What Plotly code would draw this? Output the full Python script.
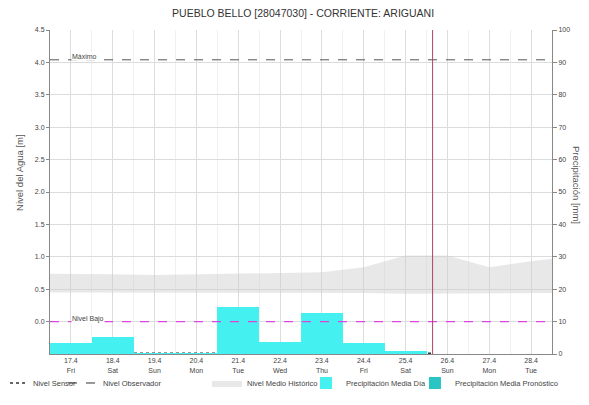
import plotly.graph_objects as go

# ---------------- data ----------------
title_text = "PUEBLO BELLO [28047030] - CORRIENTE: ARIGUANI"
left_title = "Nivel del Agua [m]"
right_title = "Precipitación [mm]"

day_dates = ["2020-04-17", "2020-04-18", "2020-04-19", "2020-04-20", "2020-04-21", "2020-04-22",
             "2020-04-23", "2020-04-24", "2020-04-25", "2020-04-26", "2020-04-27", "2020-04-28"]
day_labels = ["17.4<br>Fri", "18.4<br>Sat", "19.4<br>Sun", "20.4<br>Mon", "21.4<br>Tue", "22.4<br>Wed",
              "23.4<br>Thu", "24.4<br>Fri", "25.4<br>Sat", "26.4<br>Sun", "27.4<br>Mon", "28.4<br>Tue"]

precip_dates = ["2020-04-17", "2020-04-18", "2020-04-19", "2020-04-20", "2020-04-21",
                "2020-04-22", "2020-04-23", "2020-04-24", "2020-04-25"]
precip_values = [3.4, 5.2, 0.3, 0.3, 14.5, 3.7, 12.7, 3.4, 0.8]

forecast_dates = ["2020-04-26", "2020-04-27", "2020-04-28"]
forecast_values = [0.0, 0.0, 0.0]

hist_dates = ["2020-04-16 12:00", "2020-04-17", "2020-04-18", "2020-04-19", "2020-04-20", "2020-04-21",
              "2020-04-22", "2020-04-23", "2020-04-24", "2020-04-25", "2020-04-26", "2020-04-27",
              "2020-04-28", "2020-04-28 12:00"]
hist_upper = [0.74, 0.74, 0.73, 0.72, 0.73, 0.74, 0.75, 0.76, 0.84, 1.02, 1.02, 0.84, 0.93, 0.97]
hist_lower = [0.45, 0.45, 0.45, 0.45, 0.45, 0.45, 0.45, 0.45, 0.44, 0.43, 0.43, 0.44, 0.44, 0.44]

sensor_dates = ["2020-04-16 12:00", "2020-04-18", "2020-04-20", "2020-04-22", "2020-04-24", "2020-04-25 15:30"]
sensor_values = [-0.49, -0.49, -0.49, -0.49, -0.49, -0.49]

level_max = 4.04
level_low = 0.0
now_time = "2020-04-25 15:30"
x_start = "2020-04-16 12:00"
x_end = "2020-04-28 12:00"

left_ticks = [0.0, 0.5, 1.0, 1.5, 2.0, 2.5, 3.0, 3.5, 4.0, 4.5]
right_ticks = [0, 10, 20, 30, 40, 50, 60, 70, 80, 90, 100]

# ---------------- figure ----------------
FONT = "Liberation Sans, Arial, sans-serif"
TXT = "#444444"

fig = go.Figure()

fig.add_trace(go.Scatter(
    x=sensor_dates, y=sensor_values, mode="lines", name="Nivel Sensor",
    line=dict(color="#333333", width=1.5, dash="dot"), yaxis="y", legendwidth=25))
fig.add_trace(go.Scatter(
    x=[None], y=[None], mode="lines", name="Nivel Observador",
    line=dict(color="#333333", width=1, dash="dash"), yaxis="y", legendwidth=99))
fig.add_trace(go.Scatter(
    x=hist_dates, y=hist_lower, mode="lines", line=dict(width=0, color="rgba(0,0,0,0)"),
    showlegend=False, hoverinfo="skip", yaxis="y"))
fig.add_trace(go.Scatter(
    x=hist_dates, y=hist_upper, mode="lines", name="Nivel Medio Histórico",
    line=dict(width=0, color="rgba(205,205,205,0.55)"), fill="tonexty",
    fillcolor="rgba(205,205,205,0.45)", yaxis="y", legendwidth=54))
fig.add_trace(go.Bar(
    x=precip_dates, y=precip_values, name="Precipitación Media Día",
    marker=dict(color="#44f0f0", line=dict(width=0)), width=86400000, yaxis="y2", legendwidth=90))
fig.add_trace(go.Bar(
    x=forecast_dates, y=forecast_values, name="Precipitación Media Pronóstico",
    marker=dict(color="#2bc4c4", line=dict(width=0)), width=86400000, yaxis="y2",
    legend="legend2", legendwidth=140))

# reference lines
fig.add_shape(type="line", xref="paper", x0=0, x1=1, yref="y", y0=level_max, y1=level_max,
              line=dict(color="#555555", width=1, dash="dash"), layer="above")
fig.add_shape(type="line", xref="paper", x0=0, x1=1, yref="y", y0=level_low, y1=level_low,
              line=dict(color="#dd44dd", width=1.2, dash="dash"), layer="above")
fig.add_shape(type="line", xref="x", x0=now_time, x1=now_time, yref="paper", y0=0, y1=1,
              line=dict(color="#b04060", width=1), layer="above")

fig.add_annotation(xref="paper", x=0.042, yref="y", y=level_max, text="Máximo", showarrow=False,
                   xanchor="left", yanchor="middle", yshift=3, bgcolor="white", borderpad=0,
                   font=dict(size=7, color=TXT, family=FONT))
fig.add_annotation(xref="paper", x=0.042, yref="y", y=level_low, text="Nivel Bajo", showarrow=False,
                   xanchor="left", yanchor="middle", yshift=3, bgcolor="white", borderpad=0,
                   font=dict(size=7, color=TXT, family=FONT))

# axis titles (placed as in the reference)
fig.add_annotation(xref="paper", x=-0.0598, yref="paper", y=0.562, text=left_title, showarrow=False,
                   textangle=-90, xanchor="center", yanchor="middle",
                   font=dict(size=9.5, color="#555555", family=FONT))
fig.add_annotation(xref="paper", x=1.0478, yref="paper", y=0.522, text=right_title, showarrow=False,
                   textangle=90, xanchor="center", yanchor="middle",
                   font=dict(size=9.5, color="#555555", family=FONT))

legend_common = dict(orientation="h", y=-0.0895, yanchor="middle", traceorder="normal",
                     font=dict(size=7.5, color=TXT, family=FONT), bgcolor="rgba(0,0,0,0)",
                     itemwidth=30, tracegroupgap=0)

fig.update_layout(
    width=589, height=405,
    margin=dict(l=42, r=45, t=22, b=59, autoexpand=False),
    paper_bgcolor="white", plot_bgcolor="white",
    font=dict(family=FONT, size=7, color=TXT),
    title=dict(text=title_text, x=0.501, xanchor="center", yref="container", y=0.988, yanchor="middle",
               font=dict(size=10.5, color="#333333", family=FONT)),
    barmode="overlay",
    bargap=0,
    showlegend=True,
    legend=dict(x=-0.1135, xanchor="left", **legend_common),
    legend2=dict(x=0.727, xanchor="left", **legend_common),
    xaxis=dict(
        type="date", range=[x_start, x_end],
        tickvals=day_dates, ticktext=day_labels, tickfont=dict(size=7, color=TXT),
        showgrid=True, gridcolor="#dcdcdc", gridwidth=1,
        minor=dict(dtick=43200000, showgrid=True, gridcolor="#f0f0f0"),
        showline=True, linecolor="#888888", linewidth=1,
        ticks="", zeroline=False, automargin=False),
    yaxis=dict(
        range=[-0.5, 4.5], tickvals=left_ticks, ticktext=[f"{v:.1f}" for v in left_ticks],
        tickfont=dict(size=7, color=TXT),
        showgrid=True, gridcolor="#dcdcdc", gridwidth=1,
        showline=True, linecolor="#888888", linewidth=1,
        ticks="outside", ticklen=3, tickcolor="#888888", zeroline=False, automargin=False),
    yaxis2=dict(
        range=[0, 100], tickvals=right_ticks, overlaying="y", side="right",
        tickfont=dict(size=7, color=TXT),
        showgrid=False, showline=True, linecolor="#888888", linewidth=1,
        ticks="outside", ticklen=4, tickcolor="#888888", zeroline=False, automargin=False),
)

fig.write_html("out.html")
